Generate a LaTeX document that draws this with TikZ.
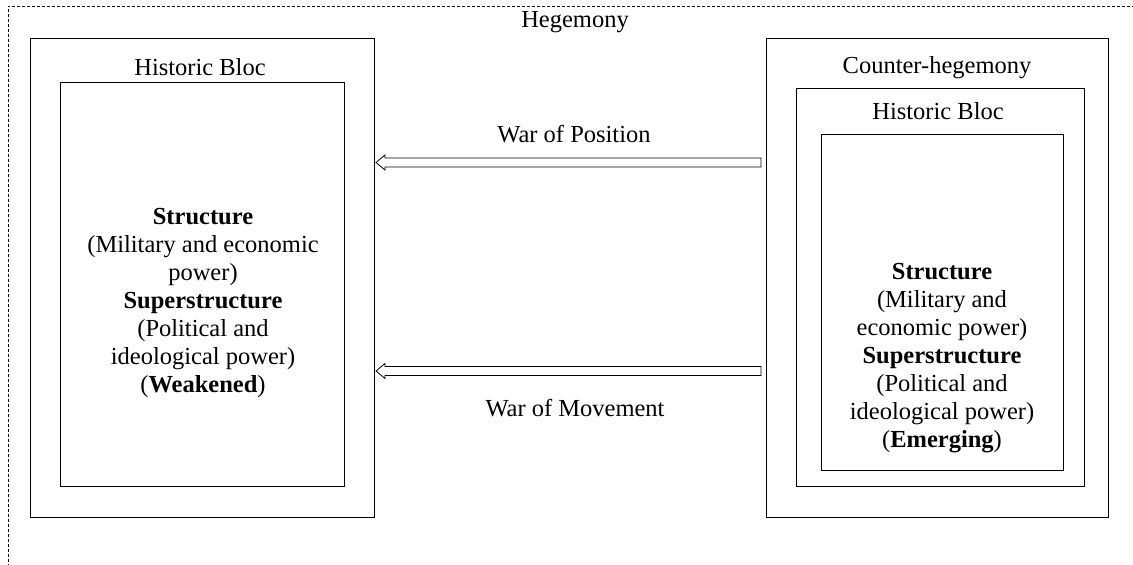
\documentclass[tikz,border=0pt]{standalone}
\usepackage{fontspec}
\setmainfont{Liberation Serif}
\usetikzlibrary{calc}

% hollow block arrow from tip (#1) back to tail (#2)
\newcommand\hollowarrow[2]{%
  \draw[blockarrow] (#1) -- ++(9,-7.5) -- ++(0,3) -- ($(#2)+(0,-4.5)$)
    -- ($(#2)+(0,4.5)$) -- ($(#1)+(9,4.5)$) -- ++(0,3) -- cycle;}

\begin{document}
\begin{tikzpicture}[x=1pt,y=-1pt,
    box/.style={draw,line width=1pt,rectangle,inner sep=0pt},
    label/.style={font=\fontsize{24.5}{28}\selectfont,inner sep=0pt},
    content/.style={label,align=center},
    blockarrow/.style={draw,line width=0.8pt,line join=miter,fill=white},
    frame/.style={line width=0.7pt,dash pattern=on 3pt off 2pt}]
    \useasboundingbox (0,0) rectangle (1133,565);
            % dashed hegemony frame, runs off the page
            \coordinate (frameTR) at (1140,6);
            \coordinate (frameTL) at (8,6);
            \coordinate (frameBL) at (8,570);
            \draw[frame] (frameTR) -- (frameTL) -- (frameBL);
            \node[label] (hegemony) at (575,22) {Hegemony};

            % boxes
            \begin{scope}[every node/.style={box}]
                \node[minimum width=344pt,minimum height=479pt] (leftouter) at (202,277.5) {};
                \node[minimum width=284pt,minimum height=404pt] (leftinner) at (202,284) {};

                \node[minimum width=342pt,minimum height=479pt] (rightouter) at (937,277.5) {};
                \node[minimum width=288pt,minimum height=398pt] (rightmid) at (940,287) {};
                \node[minimum width=242pt,minimum height=336pt] (rightinner) at (942,302) {};
            \end{scope}

            % titles
            \node[label] (blocLeft) at (200,67) {Historic Bloc};
            \node[label] (counter) at (937,68) {Counter-hegemony};
            \node[label] (blocRight) at (938,111) {Historic Bloc};

            \node[content] (weakened) at (203,303) {\textbf{Structure}\\(Military and economic\\power)\\
                \textbf{Superstructure}\\(Political and\\ideological power)\\(\textbf{Weakened})};
            \node[content] (emerging) at (942,358) {\textbf{Structure}\\(Military and\\economic power)\\
                \textbf{Superstructure}\\(Political and\\ideological power)\\(\textbf{Emerging})};

            % wars
            \node[label] (position) at (574,134) {War of Position};
            \node[label] (movement) at (575,408) {War of Movement};
            \coordinate (posTip) at (376,162.5);
            \coordinate (posTail) at (761,162.5);
            \coordinate (movTip) at (376,371);
            \coordinate (movTail) at (761,371);
            \hollowarrow{posTip}{posTail}
            \hollowarrow{movTip}{movTail}
\end{tikzpicture}
\end{document}
